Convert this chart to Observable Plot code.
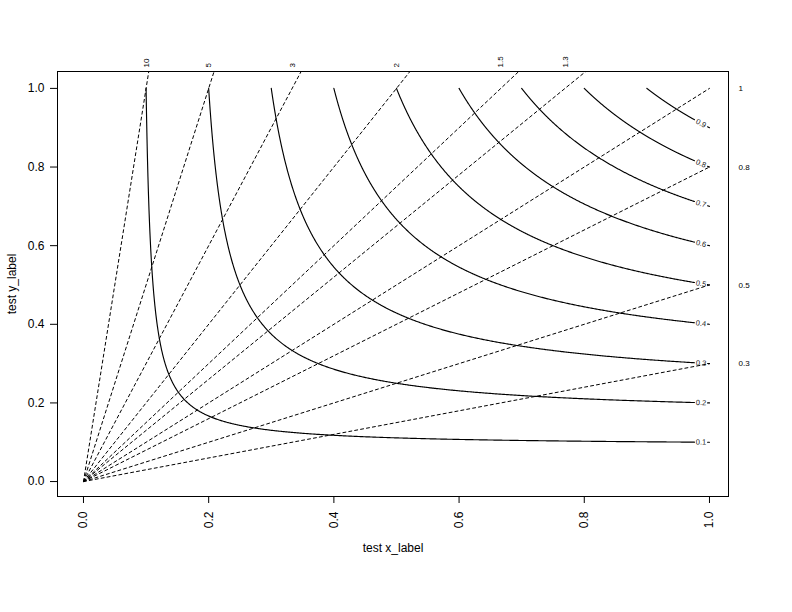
<!DOCTYPE html>
<html><head><meta charset="utf-8">
<script src="https://cdn.jsdelivr.net/npm/d3@7"></script>
<script src="https://cdn.jsdelivr.net/npm/@observablehq/plot@0.6"></script>
<style>body{margin:0;background:#fff}</style>
</head><body><div id="chart"></div>
<script>
// ---- data ----
const csiLevels = [0.1, 0.2, 0.3, 0.4, 0.5, 0.6, 0.7, 0.8, 0.9];
const biasLevels = [0.3, 0.5, 0.8, 1, 1.3, 1.5, 2, 3, 5, 10];
const xTicks = [0, 0.2, 0.4, 0.6, 0.8, 1.0];
const yTicks = [0, 0.2, 0.4, 0.6, 0.8, 1.0];
const xLabel = "test x_label";
const yLabel = "test y_label";

// ---- layout ----
const W = 792, H = 612;
const mL = 57, mR = 64, mT = 71, mB = 116;
const xDom = [-0.0415, 1.0304], yDom = [-0.038, 1.043];
const kx = (W - mL - mR) / (xDom[1] - xDom[0]);
const ky = (H - mT - mB) / (yDom[1] - yDom[0]);

// CSI (critical success index) isolines: 1/csi = 1/x + 1/y - 1
const csiY = (t, x) => 1 / (1 / t + 1 - 1 / x);
const labelX = 0.9865;
const curvePts = [];
for (const t of csiLevels) {
  const segs = [[t, 0.976], [0.997, 1.0]];
  segs.forEach(([a, b], si) => {
    const n = 600;
    for (let i = 0; i <= n; i++) {
      const s = i / n;
      const x = a + (b - a) * (si === 0 ? s * s : s);
      curvePts.push({x, y: csiY(t, x), z: t + "-" + si});
    }
  });
}
const csiLabels = csiLevels.map(t => {
  const y = csiY(t, labelX);
  const slope = (y * y) / (labelX * labelX);
  return {x: labelX, y, text: String(t), rot: Math.atan(slope * ky / kx) * 180 / Math.PI};
});

// frequency bias lines y = b * x
const biasPts = biasLevels.flatMap(b => [{x: 0, y: 0, b}, {x: 1, y: b, b}]);
const topLabels = biasLevels.filter(b => b > 1).map(b => ({x: 1 / b, text: String(b)}));
const rightLabels = biasLevels.filter(b => b <= 1).map(b => ({y: b, text: String(b)}));

const chart = Plot.plot({
  width: W, height: H,
  marginLeft: mL, marginRight: mR, marginTop: mT, marginBottom: mB,
  style: {fontFamily: "'Liberation Sans', Arial, Helvetica, sans-serif", background: "#fff", color: "#000"},
  x: {domain: xDom},
  y: {domain: yDom},
  marks: [
    Plot.line(biasPts, {x: "x", y: "y", z: "b", stroke: "black", strokeWidth: 1, strokeDasharray: "3,3", clip: true}),
    Plot.line(curvePts, {x: "x", y: "y", z: "z", stroke: "black", strokeWidth: 1.15, clip: true}),
    Plot.text(csiLabels, {x: "x", y: "y", text: "text", rotate: "rot", fontSize: 7.5, fill: "#222"}),
    Plot.text(topLabels, {x: "x", y: () => yDom[1], text: "text", rotate: -90, textAnchor: "start", dy: -4, dx: 0, fontSize: 8, fill: "#000"}),
    Plot.text(rightLabels, {x: () => xDom[1], y: "y", text: "text", textAnchor: "start", dx: 10, fontSize: 8, fill: "#000"}),
    Plot.frame({stroke: "black"}),
    Plot.axisX({ticks: xTicks, tickSize: 7, tickPadding: 8, tickRotate: -90, tickFormat: d3.format(".1f"),
      fontSize: 12, label: xLabel, labelAnchor: "center", labelArrow: "none", labelOffset: 55}),
    Plot.axisY({ticks: yTicks, tickSize: 7, tickPadding: 6, tickFormat: d3.format(".1f"),
      fontSize: 12, label: yLabel, labelAnchor: "center", labelArrow: "none", labelOffset: 50})
  ]
});
document.getElementById("chart").appendChild(chart);
</script>
</body></html>
